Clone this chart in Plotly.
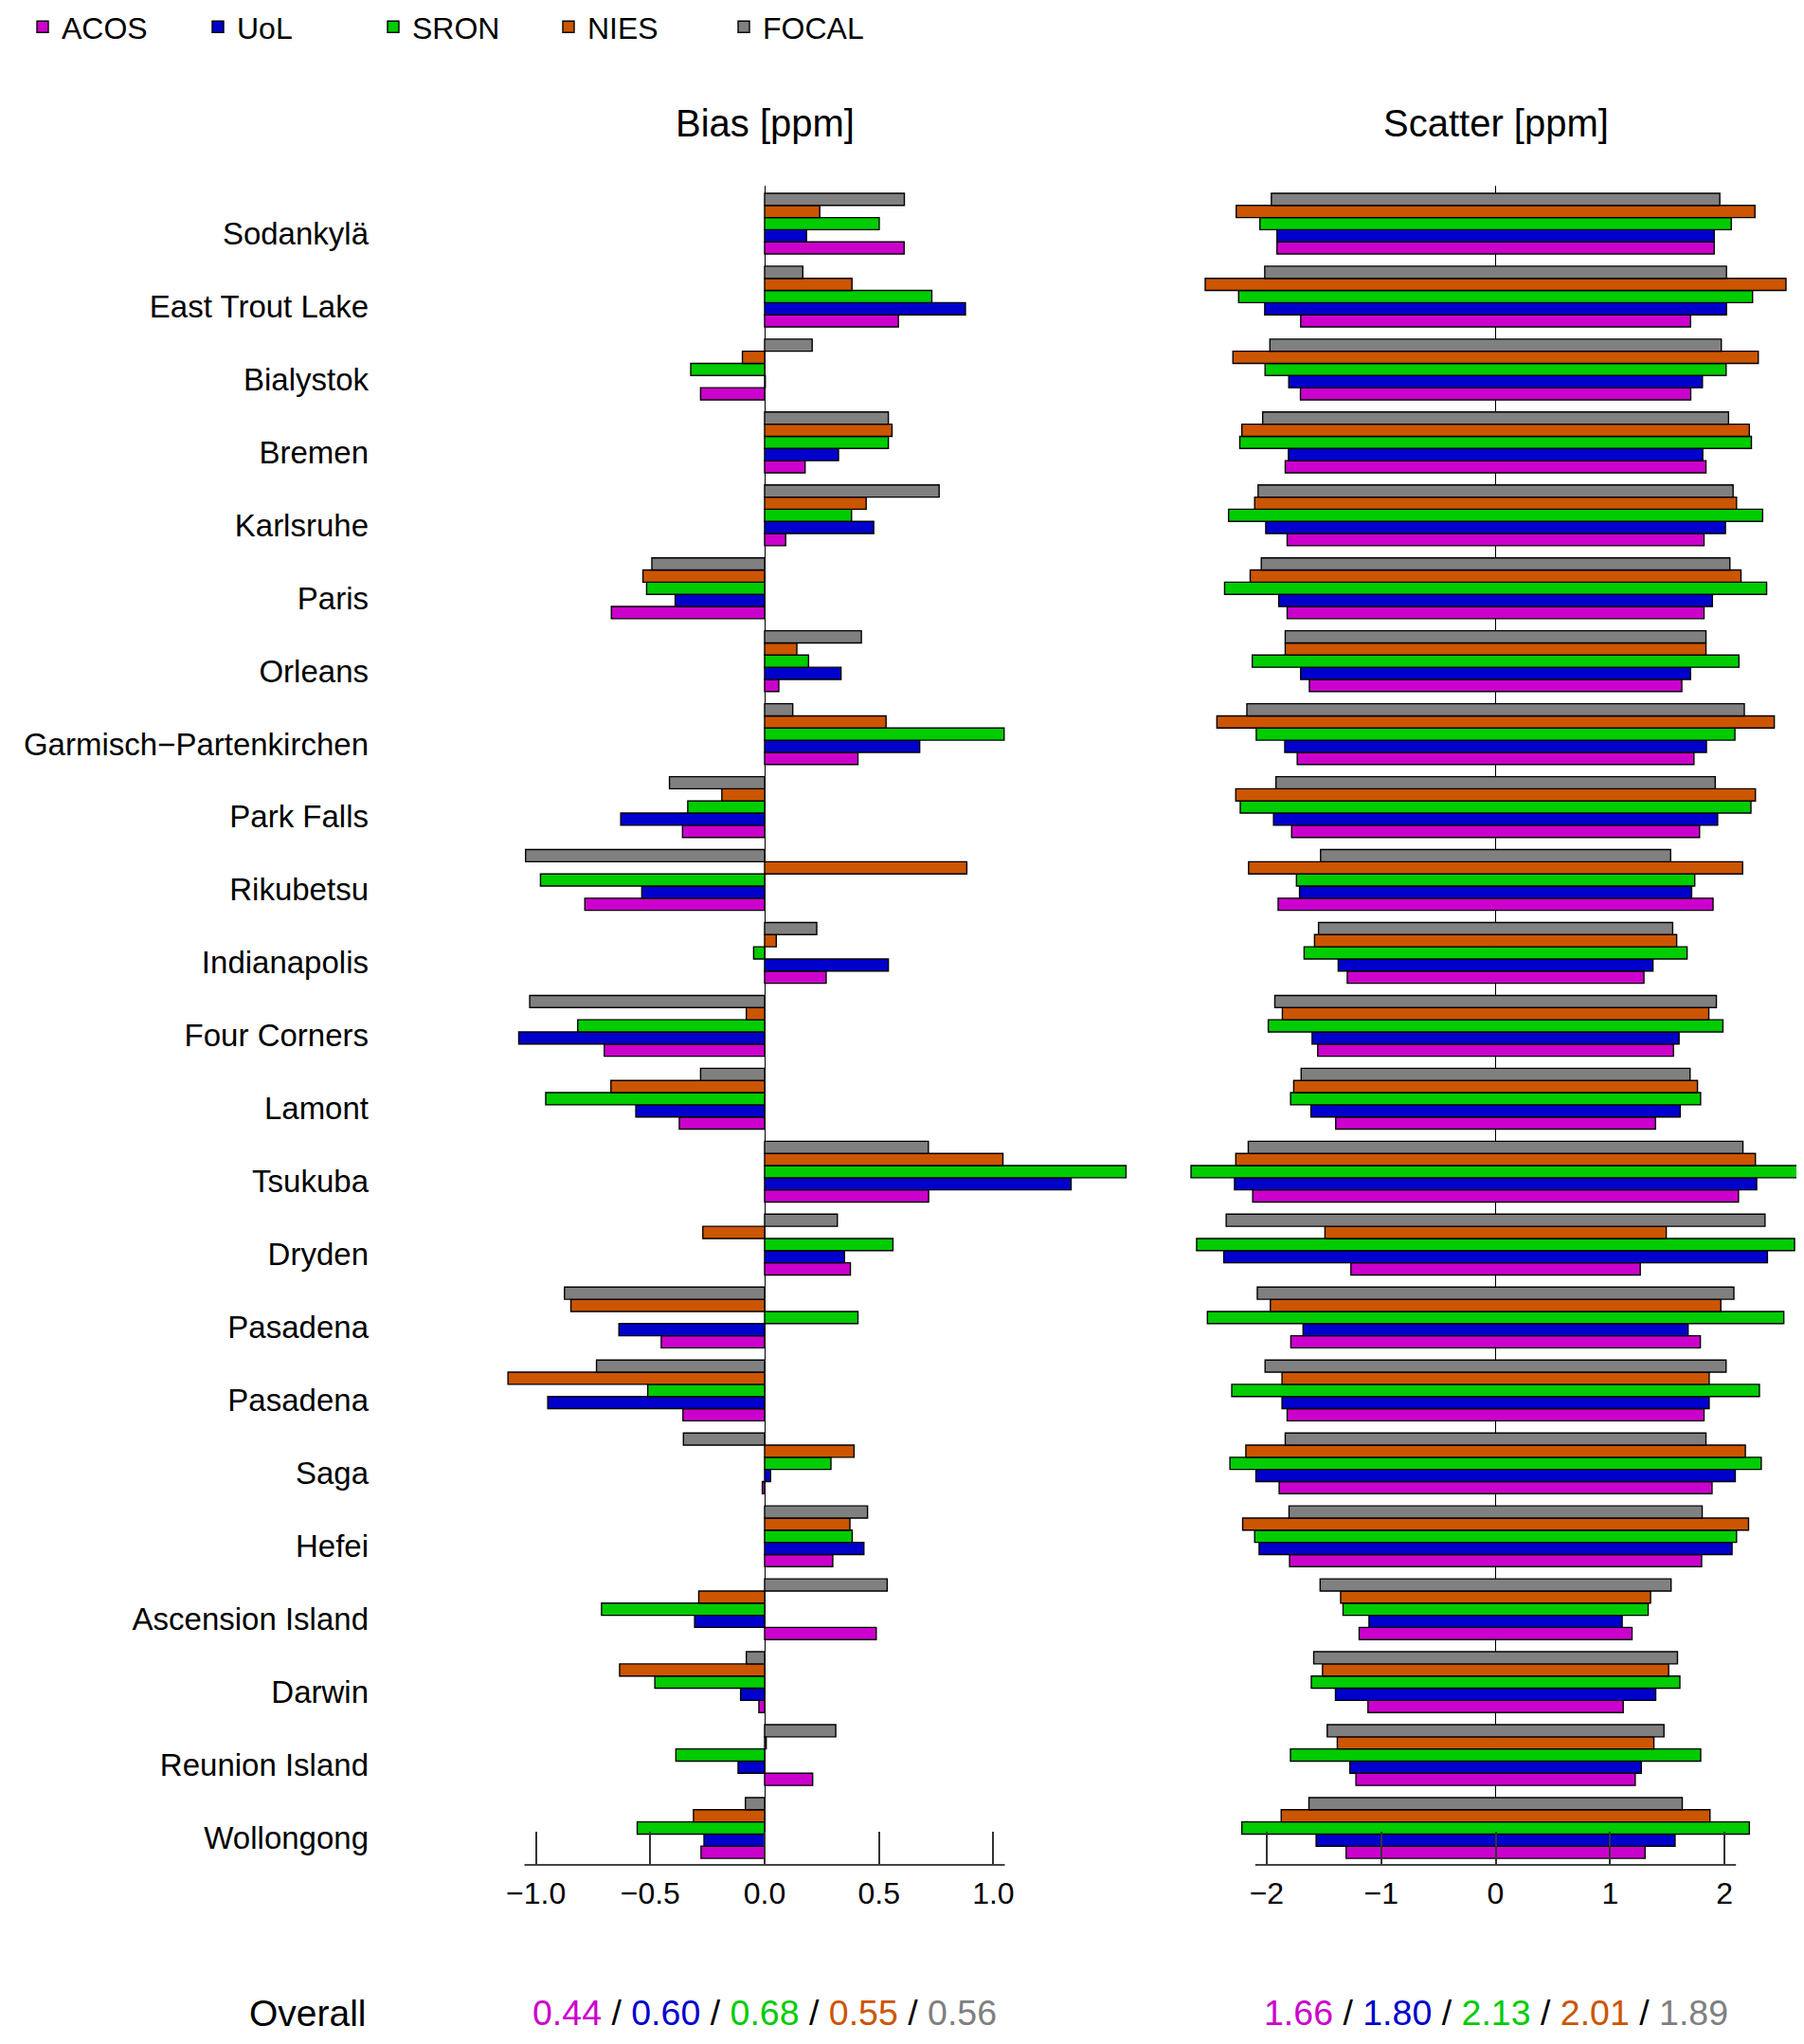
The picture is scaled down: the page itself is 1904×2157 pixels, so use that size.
import plotly.graph_objects as go

# ---------------- data ----------------
stations = ["Sodankylä", "East Trout Lake", "Bialystok", "Bremen", "Karlsruhe", "Paris",
            "Orleans", "Garmisch−Partenkirchen", "Park Falls", "Rikubetsu", "Indianapolis",
            "Four Corners", "Lamont", "Tsukuba", "Dryden", "Pasadena", "Pasadena", "Saga",
            "Hefei", "Ascension Island", "Darwin", "Reunion Island", "Wollongong"]

series_names = ["ACOS", "UoL", "SRON", "NIES", "FOCAL"]
series_colors = ["#CC00CC", "#0000CC", "#00CC00", "#CC5500", "#808080"]

bias_acos = [0.61, 0.585, -0.28, 0.177, 0.092, -0.67, 0.062, 0.408, -0.359, -0.786, 0.269,
             -0.701, -0.373, 0.717, 0.375, -0.452, -0.357, -0.010, 0.298, 0.488, -0.025, 0.210, -0.278]
bias_uol = [0.183, 0.878, 0.003, 0.323, 0.477, -0.391, 0.334, 0.678, -0.629, -0.537, 0.541,
            -1.075, -0.563, 1.34, 0.349, -0.637, -0.948, 0.026, 0.434, -0.306, -0.105, -0.116, -0.265]
bias_sron = [0.501, 0.731, -0.323, 0.541, 0.380, -0.516, 0.192, 1.047, -0.336, -0.980, -0.048,
             -0.817, -0.957, 1.58, 0.561, 0.408, -0.511, 0.290, 0.383, -0.713, -0.480, -0.388, -0.557]
bias_nies = [0.241, 0.382, -0.097, 0.557, 0.444, -0.532, 0.141, 0.531, -0.187, 0.884, 0.051,
             -0.080, -0.672, 1.042, -0.270, -0.847, -1.122, 0.391, 0.373, -0.288, -0.634, 0.007, -0.311]
bias_focal = [0.611, 0.167, 0.208, 0.541, 0.763, -0.493, 0.423, 0.123, -0.416, -1.045, 0.228,
              -1.027, -0.280, 0.716, 0.318, -0.875, -0.735, -0.355, 0.450, 0.536, -0.080, 0.311, -0.084]

scatter_acos = [1.910, 1.703, 1.705, 1.838, 1.821, 1.821, 1.627, 1.733, 1.782, 1.900, 1.296,
                1.554, 1.397, 2.122, 1.264, 1.789, 1.821, 1.891, 1.800, 1.192, 1.115, 1.220, 1.306]
scatter_uol = [1.910, 2.017, 1.807, 1.810, 2.008, 1.894, 1.703, 1.842, 1.940, 1.713, 1.375,
               1.603, 1.613, 2.281, 2.375, 1.682, 1.866, 2.094, 2.066, 1.106, 1.399, 1.273, 1.568]
scatter_sron = [2.059, 2.245, 2.014, 2.235, 2.333, 2.368, 2.126, 2.091, 2.231, 1.740, 1.673,
                1.986, 1.791, 2.661, 2.612, 2.518, 2.305, 2.321, 2.105, 1.333, 1.610, 1.792, 2.217]
scatter_nies = [2.266, 2.537, 2.295, 2.217, 2.105, 2.144, 1.838, 2.435, 2.270, 2.158, 1.582,
                1.863, 1.764, 2.270, 1.491, 1.968, 1.866, 2.182, 2.210, 1.354, 1.512, 1.383, 1.873]
scatter_focal = [1.959, 2.017, 1.972, 2.035, 2.075, 2.047, 1.838, 2.173, 1.919, 1.529, 1.547,
                 1.929, 1.699, 2.161, 2.354, 2.082, 2.014, 1.838, 1.805, 1.533, 1.589, 1.471, 1.631]

overall_bias = [0.44, 0.60, 0.68, 0.55, 0.56]
overall_scatter = [1.66, 1.80, 2.13, 2.01, 1.89]

bias_ticks = [-1.0, -0.5, 0.0, 0.5, 1.0]
scatter_ticks = [-2, -1, 0, 1, 2]

# ---------------- layout geometry (screen pixels) ----------------
W, H = 1904, 2157
OFF = 8                                # page body margin of the browser
FONT = "Liberation Sans, Arial, Helvetica, sans-serif"


def px_x(p):
    return (p - OFF) / W


def px_y(p):
    return 1 - (p - OFF) / H


top_px, bot_px = 196, 1968
unit_px = 12.826                      # one bar height
y_extent = (bot_px - top_px) / unit_px
first_center = (236 - top_px) / unit_px
group_period = 6
slot = {"FOCAL": 0, "NIES": 1, "SRON": 2, "UoL": 3, "ACOS": 4}
label_shift = 0.8

bias_zero_px, bias_unit_px = 807, 241.4
bias_dom_px = (400, 1200)
sc_zero_px, sc_unit_px = 1578.5, 120.8
sc_dom_px = (1240, 1912)

centers = [first_center + group_period * i for i in range(len(stations))]


def positions(name):
    return [c + slot[name] - 2 for c in centers]


bias_data = [bias_acos, bias_uol, bias_sron, bias_nies, bias_focal]
scatter_data = [scatter_acos, scatter_uol, scatter_sron, scatter_nies, scatter_focal]

fig = go.Figure()
for name, col, b in zip(series_names, series_colors, bias_data):
    fig.add_trace(go.Bar(
        orientation="h", x=b, y=positions(name), base=0, width=1,
        marker=dict(color=col, line=dict(color="black", width=1.4)),
        name=name, legendgroup=name, xaxis="x", yaxis="y"))
for name, col, s in zip(series_names, series_colors, scatter_data):
    fig.add_trace(go.Bar(
        orientation="h", x=[2 * v for v in s], base=[-v for v in s], y=positions(name), width=1,
        marker=dict(color=col, line=dict(color="black", width=1.4)),
        name=name, legendgroup=name, showlegend=False, xaxis="x2", yaxis="y2"))

ydom = [px_y(bot_px), px_y(top_px)]
axis_common = dict(showgrid=False, ticks="inside", ticklen=35, tickwidth=1.6, tickcolor="#333333",
                   zeroline=True, zerolinecolor="black", zerolinewidth=1.4, showline=False,
                   ticklabelstandoff=8,
                   tickfont=dict(size=32, color="black", family=FONT))

fig.update_layout(
    width=W, height=H,
    margin=dict(l=0, r=0, t=0, b=0, autoexpand=False),
    paper_bgcolor="white", plot_bgcolor="white",
    barmode="overlay",
    font=dict(family=FONT, color="black"),
    xaxis=dict(domain=[px_x(bias_dom_px[0]), px_x(bias_dom_px[1])],
               range=[(bias_dom_px[0] - bias_zero_px) / bias_unit_px,
                      (bias_dom_px[1] - bias_zero_px) / bias_unit_px],
               tickvals=bias_ticks, tickformat=".1f", anchor="y", **axis_common),
    xaxis2=dict(domain=[px_x(sc_dom_px[0]), min(1.0, px_x(sc_dom_px[1]))],
                range=[(sc_dom_px[0] - sc_zero_px) / sc_unit_px,
                       (sc_dom_px[1] - sc_zero_px) / sc_unit_px],
                tickvals=scatter_ticks, tickformat="d", anchor="y2", **axis_common),
    yaxis=dict(domain=ydom, range=[y_extent, 0], showgrid=False, zeroline=False, showline=False,
               tickvals=[c + label_shift for c in centers], ticktext=stations, ticks="",
               tickfont=dict(size=33, color="black", family=FONT), anchor="x",
               ticklabelstandoff=10),
    yaxis2=dict(domain=ydom, range=[y_extent, 0], showgrid=False, zeroline=False, showline=False,
                showticklabels=False, anchor="x2"),
    legend=dict(orientation="h", x=17 / W, y=1 + 7 / H, xanchor="left", yanchor="top",
                font=dict(size=32, color="black", family=FONT),
                entrywidth=140, entrywidthmode="pixels", bgcolor="rgba(0,0,0,0)",
                traceorder="normal"),
    showlegend=True,
)

# axis baselines spanning slightly beyond the outer ticks
fig.add_shape(type="line", xref="x", yref="paper",
              x0=min(bias_ticks) - 0.05, x1=max(bias_ticks) + 0.05, y0=ydom[0], y1=ydom[0],
              line=dict(color="#444444", width=2))
fig.add_shape(type="line", xref="x2", yref="paper",
              x0=min(scatter_ticks) - 0.1, x1=max(scatter_ticks) + 0.1, y0=ydom[0], y1=ydom[0],
              line=dict(color="#444444", width=2))

# titles
for ref, title in (("x", "Bias [ppm]"), ("x2", "Scatter [ppm]")):
    fig.add_annotation(text=title, xref=ref, yref="paper", x=0, y=px_y(130),
                       showarrow=False, xanchor="center", yanchor="middle",
                       font=dict(size=40, color="black", family=FONT))

# overall row
fig.add_annotation(text="Overall", xref="paper", yref="paper", x=px_x(389), y=px_y(2124),
                   showarrow=False, xanchor="right", yanchor="middle",
                   font=dict(size=39, color="black", family=FONT))


def overall_text(vals):
    return " / ".join(f"<span style='color:{c}'>{v:.2f}</span>"
                      for v, c in zip(vals, series_colors))


for ref, vals in (("x", overall_bias), ("x2", overall_scatter)):
    fig.add_annotation(text=overall_text(vals), xref=ref, yref="paper", x=0, y=px_y(2124),
                       showarrow=False, xanchor="center", yanchor="middle",
                       font=dict(size=37.5, color="black", family=FONT))

fig.write_html("out.html")
